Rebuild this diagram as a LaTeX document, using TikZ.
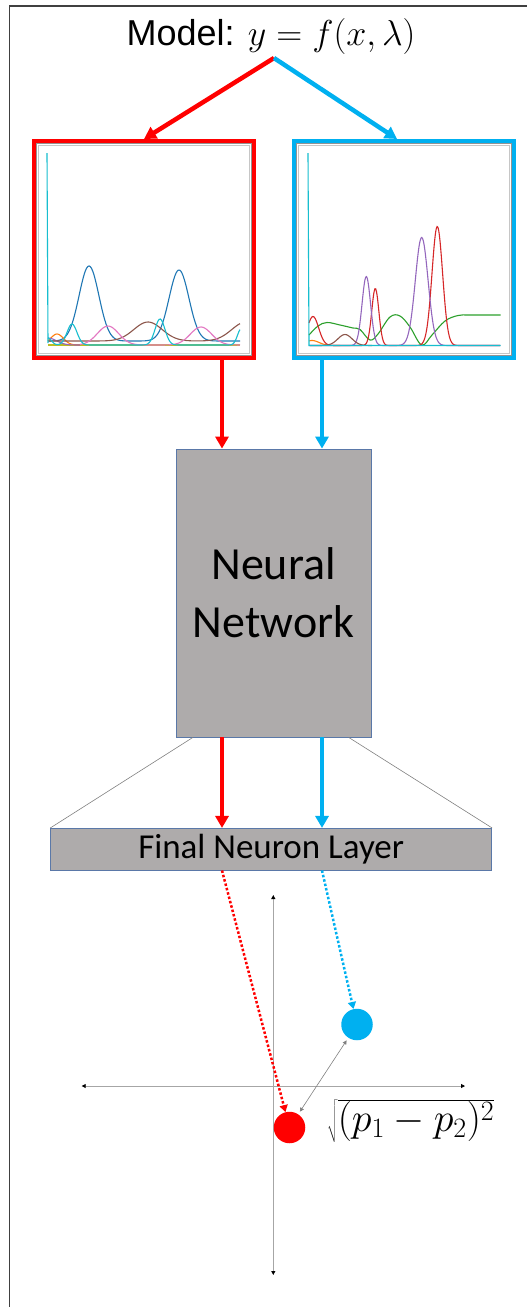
\RequirePackage{fix-cm}
\documentclass[tikz,border=0pt]{standalone}
\usepackage[no-math]{fontspec}
\setmainfont{Carlito}
\newfontfamily\arialfont{Liberation Sans}
\usetikzlibrary{arrows.meta,calc}

\definecolor{myred}{HTML}{FF0000}
\definecolor{myblue}{HTML}{00B0F0}
\definecolor{nnfill}{HTML}{AEABAB}
\definecolor{nnedge}{HTML}{5A78A8}
\definecolor{framecol}{HTML}{404040}
\definecolor{tabblue}{HTML}{1F77B4}
\definecolor{taborange}{HTML}{FF7F0E}
\definecolor{tabgreen}{HTML}{2CA02C}
\definecolor{tabred}{HTML}{D62728}
\definecolor{tabpurple}{HTML}{9467BD}
\definecolor{tabbrown}{HTML}{8C564B}
\definecolor{tabpink}{HTML}{E377C2}
\definecolor{tabolive}{HTML}{BCBD22}
\definecolor{tabcyan}{HTML}{17BECF}

\begin{document}
\begin{tikzpicture}[x=1pt,y=-1pt,
  declare function={gs(\t)=exp(-(\t)*(\t));},
  plotframe/.style={draw, line width=4pt, minimum width=220pt, minimum height=217pt, inner sep=0pt, fill=white},
  thickarrow/.style={line width=4.5pt, -{Triangle[length=12pt,width=13pt]}},
  dotarrow/.style={line width=2.5pt, dash pattern=on 2.5pt off 2pt, -{Triangle[length=7pt,width=8pt]}},
  boxstyle/.style={draw=nnedge, line width=0.8pt, fill=nnfill, inner sep=0pt},
  axisline/.style={draw=gray!70, line width=0.8pt, {Triangle[length=4pt,width=4pt,color=black]}-{Triangle[length=4pt,width=4pt,color=black]}},
  dot/.style={circle, minimum size=31.5pt, inner sep=0pt, draw=none},
  curve/.style={line width=1.1pt},
  innerA/.style={draw=gray!85, line width=0.8pt},
  innerB/.style={draw=gray!45, line width=0.7pt}
]
\useasboundingbox (0,0) rectangle (527,1307);

% page frame
\draw[framecol, line width=1.2pt] (9.5,1307) -- (9.5,6) -- (527,6);

% title
\node[font=\arialfont\fontsize{36}{42}\selectfont, anchor=base, inner sep=0pt] (title) at (271,45) {Model: $y = f(x,\lambda)$};
\coordinate (apex) at (274,58);

% the two spectra panels
\node[plotframe, draw=myred] (redbox) at (144,249.5) {};
\node[plotframe, draw=myblue] (bluebox) at (404,249.5) {};
\foreach \b in {redbox,bluebox}{
  \draw[innerA] ([shift={(4.5,4.5)}]\b.north west) rectangle ([shift={(-4.5,-4.5)}]\b.south east);
  \draw[innerB] ([shift={(6.5,6.5)}]\b.north west) rectangle ([shift={(-6.5,-6.5)}]\b.south east);
}

% left panel curves
\draw[curve, tabolive] (48,345) -- (240,345);
\draw[curve, tabblue] plot[domain=48:240, samples=160, smooth] (\x,{341-75*gs((\x-89)/14)-71*gs((\x-179)/14)});
\draw[curve, taborange] plot[domain=48:80, samples=30, smooth] (\x,{345-11*gs((\x-57)/9)});
\draw[curve, tabpurple] plot[domain=48:80, samples=30, smooth] (\x,{345-7*gs((\x-48)/12)});
\draw[curve, tabbrown] plot[domain=48:240, samples=100, smooth] (\x,{341-19*gs((\x-148)/20)-19*gs((\x-246)/20)});
\draw[curve, tabpink] plot[domain=80:240, samples=100, smooth] (\x,{345-19*gs((\x-108)/15)-18*gs((\x-201)/15)});
\draw[curve, tabcyan] (47,153) -- (48,343);
\draw[curve, tabcyan] plot[domain=48:240, samples=160, smooth] (\x,{345-7*gs((\x-48)/5)-21*gs((\x-72)/7)-26*gs((\x-160)/7)-16*gs((\x-241)/5)});

% right panel curves
\draw[curve, taborange] plot[domain=309:340, samples=30, smooth] (\x,{345.5-5*gs((\x-312)/10)});
\draw[curve, tabgreen] plot[smooth, tension=0.6] coordinates {(309,335) (318,326) (327,322.5) (340,325) (353,328) (360,329.5) (370,340) (378,334) (390,317) (400,316) (410,327) (421.7,345) (432,335) (445,321) (458,315.5) (470,315) (500.7,315)};
\draw[curve, tabred] plot[domain=309:500, samples=250, smooth] (\x,{345.5-29*gs((\x-313)/8)-57*gs((\x-375.3)/5)-119*gs((\x-437.3)/7.5)});
\draw[curve, tabpurple] plot[domain=309:500, samples=250, smooth] (\x,{345.5-69*gs((\x-366.3)/6)-108*gs((\x-421.7)/9)});
\draw[curve, tabbrown] plot[domain=310:372, samples=40, smooth] (\x,{345.5-11*gs((\x-345)/10)});
\draw[curve, tabcyan] (308,153) -- (309,345.5) -- (500.7,345.5);

% arrows from the model
\draw[thickarrow, myred] (apex) -- (redbox.north);
\draw[thickarrow, myblue] (apex) -- ([xshift=-7pt]bluebox.north);

% network
\node[boxstyle, minimum width=195pt, minimum height=288pt, align=center,
      font=\fontsize{46}{58}\selectfont] (nn) at (273.5,593) {Neural\\Network};
\coordinate (rx) at (222,0);
\coordinate (bx) at (322,0);
\draw[thickarrow, myred] (redbox.south -| rx) -- (nn.north -| rx);
\draw[thickarrow, myblue] (bluebox.south -| bx) -- (nn.north -| bx);

% final layer
\node[boxstyle, minimum width=441pt, minimum height=41.7pt,
      font=\fontsize{35}{40}\selectfont] (fin) at (271.2,849.2) {Final Neuron Layer};
\draw[gray, line width=0.6pt] ([xshift=17.3pt]nn.south west) -- (fin.north west);
\draw[gray, line width=0.6pt] ([xshift=-22.7pt]nn.south east) -- (fin.north east);
\draw[thickarrow, myred] (nn.south -| rx) -- (fin.north -| rx);
\draw[thickarrow, myblue] (nn.south -| bx) -- (fin.north -| bx);

% embedding space
\coordinate (yt) at (273.3,895);
\coordinate (yb) at (273.3,1275);
\coordinate (xl) at (81.7,1086);
\coordinate (xr) at (465,1086);
\draw[axisline] (yt) -- (yb);
\draw[axisline] (xl) -- (xr);

\node[dot, fill=myred] (pr) at (289.5,1127.5) {};
\node[dot, fill=myblue] (pb) at (357,1024.5) {};
\draw[dotarrow, myred] (fin.south -| rx) -- (pr);
\draw[dotarrow, myblue] (fin.south -| bx) -- (pb);
\draw[gray, line width=0.6pt, shorten <=3pt, shorten >=3pt,
      {Triangle[length=4pt,width=4pt]}-{Triangle[length=4pt,width=4pt]}] (pb) -- (pr);

\node[anchor=west, inner sep=0pt, font=\fontsize{40}{46}\selectfont] (dist) at (327,1121) {$\sqrt{(p_1 - p_2)^2}$};
\end{tikzpicture}
\end{document}
